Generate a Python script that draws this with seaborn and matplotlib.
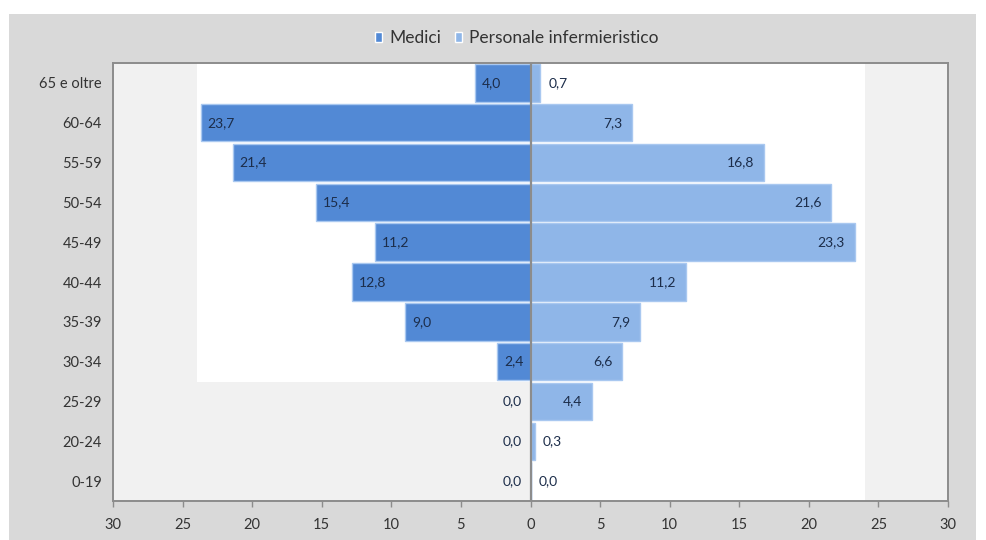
import matplotlib
matplotlib.use("Agg")
import matplotlib.pyplot as plt
from matplotlib.patches import Rectangle
import seaborn as sns
import pandas as pd

categories = ["65 e oltre", "60-64", "55-59", "50-54", "45-49", "40-44",
              "35-39", "30-34", "25-29", "20-24", "0-19"]
medici = [4.0, 23.7, 21.4, 15.4, 11.2, 12.8, 9.0, 2.4, 0.0, 0.0, 0.0]
infermieri = [0.7, 7.3, 16.8, 21.6, 23.3, 11.2, 7.9, 6.6, 4.4, 0.3, 0.0]
series_names = ["Medici", "Personale infermieristico"]
xticks = [-30, -25, -20, -15, -10, -5, 0, 5, 10, 15, 20, 25, 30]

sns.set_theme(style="white")
plt.rcParams["font.family"] = ["Lato", "DejaVu Sans"]

c_med = "#5289d5"
c_inf = "#8fb6e8"

df = pd.DataFrame({
    "cat": categories * 2,
    "val": [-v for v in medici] + infermieri,
    "serie": [series_names[0]] * len(categories) + [series_names[1]] * len(categories),
})

fig = plt.figure(figsize=(9.86, 5.4), dpi=100)
fig.patch.set_facecolor("white")
fig.patches.append(Rectangle((9 / 986, 0), 967 / 986, 1 - 14 / 540,
                             transform=fig.transFigure, facecolor="#d9d9d9",
                             edgecolor="none", zorder=-10))
ax = fig.add_axes([113 / 986, 1 - 501 / 540, (948 - 113) / 986, (501 - 63) / 540])
ax.set_facecolor("#f1f1f1")

# light background zones as in the source image
ax.add_patch(Rectangle((-24, -0.5), 48, 8.0, facecolor="white", edgecolor="none", zorder=0))
ax.add_patch(Rectangle((0, -0.5), 24, 11, facecolor="white", edgecolor="none", zorder=0))

sns.barplot(data=df, x="val", y="cat", hue="serie", order=categories,
            hue_order=series_names, palette=[c_med, c_inf], dodge=False,
            orient="h", width=0.94, edgecolor="#a9c8f0", linewidth=1.0,
            saturation=1, ax=ax, legend=False, zorder=2)

ax.axvline(0, color="#8c8c8c", lw=1.6, zorder=3)

lab_color = "#1c2d4a"
fs = 10
for i, (m, n) in enumerate(zip(medici, infermieri)):
    ml = f"{m:.1f}".replace(".", ",")
    nl = f"{n:.1f}".replace(".", ",")
    if m >= 2:
        ax.annotate(ml, (-m, i), xytext=(5, 0), textcoords="offset points",
                    ha="left", va="center", fontsize=fs, color=lab_color, zorder=4)
    else:
        ax.annotate(ml, (-m, i), xytext=(-6, 0), textcoords="offset points",
                    ha="right", va="center", fontsize=fs, color=lab_color, zorder=4)
    if n >= 2:
        ax.annotate(nl, (n, i), xytext=(-7, 0), textcoords="offset points",
                    ha="right", va="center", fontsize=fs, color=lab_color, zorder=4)
    else:
        ax.annotate(nl, (n, i), xytext=(6, 0), textcoords="offset points",
                    ha="left", va="center", fontsize=fs, color=lab_color, zorder=4)

ax.set_xlim(-30, 30)
ax.set_ylim(len(categories) - 0.5, -0.5)
ax.set_xticks(xticks)
ax.set_xticklabels([str(abs(t)) for t in xticks])
ax.set_xlabel("")
ax.set_ylabel("")
ax.tick_params(axis="x", labelsize=10.5, colors="#333333", length=4, width=1,
               direction="out", pad=8, color="#8c8c8c", bottom=True)
ax.tick_params(axis="y", labelsize=10.5, colors="#333333", length=0, pad=8)
for s in ax.spines.values():
    s.set_visible(True)
    s.set_color("#8c8c8c")
    s.set_linewidth(1.4)

handles = [Rectangle((0, 0), 1, 1, facecolor=c_med),
           Rectangle((0, 0), 1, 1, facecolor=c_inf)]
fig.legend(handles, series_names, loc="center", bbox_to_anchor=(517 / 986, 1 - 38 / 540),
           ncol=2, frameon=False, fontsize=12.5, handlelength=0.4, handleheight=0.5,
           handletextpad=0.4, columnspacing=0.8, labelcolor="#333333")

fig.savefig("out.png", dpi=100, facecolor=fig.get_facecolor())
